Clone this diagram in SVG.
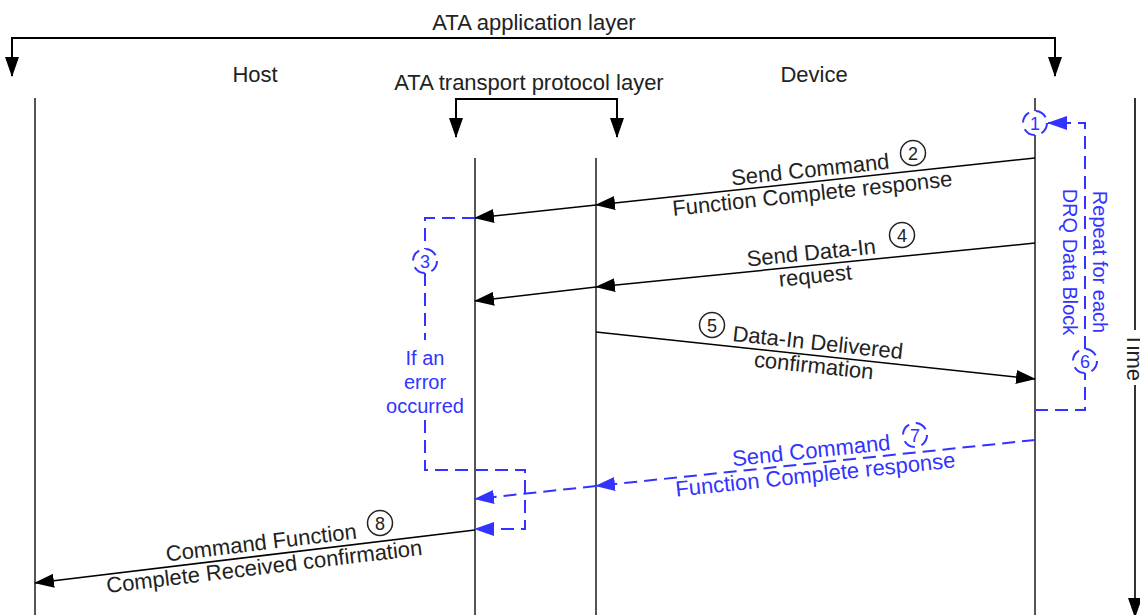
<svg xmlns="http://www.w3.org/2000/svg" width="1140" height="615" viewBox="0 0 1140 615">
<style>
text{font-family:"Liberation Sans",Arial,sans-serif;fill:#222;}
.lbl{font-size:22px;}
.msg{font-size:22px;text-anchor:middle;}
.bl{fill:#3333FF;}
.note{font-size:20px;text-anchor:middle;fill:#3333FF;}
.num{font-size:18px;text-anchor:middle;}
.life{stroke:#555;stroke-width:2;fill:none;}
.br{stroke:#000;stroke-width:2;fill:none;}
.m{stroke:#000;stroke-width:1.5;fill:none;}
.d{stroke:#3333FF;stroke-width:2;fill:none;stroke-dasharray:13 7;}
.c{stroke:#222;stroke-width:1.5;fill:#fff;}
.cd{stroke:#3333FF;stroke-width:2;fill:#fff;stroke-dasharray:12 7;}
</style>
<defs>
<marker id="ab" markerUnits="userSpaceOnUse" markerWidth="20" markerHeight="14" refX="19" refY="7" orient="auto" viewBox="0 0 20 14"><path d="M0,0 L20,7 L0,14 z" fill="#000"/></marker>
<marker id="au" markerUnits="userSpaceOnUse" markerWidth="20" markerHeight="14" refX="19" refY="7" orient="auto" viewBox="0 0 20 14"><path d="M0,0 L20,7 L0,14 z" fill="#3333FF"/></marker>
<marker id="ak" markerUnits="userSpaceOnUse" markerWidth="20" markerHeight="14" refX="19" refY="7" orient="auto" viewBox="0 0 20 14"><path d="M0,0 L20,7 L0,14 z" fill="#000"/></marker>
</defs>

<g id="layers">
<text class="lbl" x="534" y="30" text-anchor="middle">ATA application layer</text>
<path class="br" d="M12,57 V38 H1055 V57"/>
<path class="br" d="M12,40 V76" marker-end="url(#ak)"/>
<path class="br" d="M1055,40 V76" marker-end="url(#ak)"/>
<text class="lbl" x="529" y="90" text-anchor="middle">ATA transport protocol layer</text>
<path class="br" d="M456,120 V99 H617 V120"/>
<path class="br" d="M456,101 V137" marker-end="url(#ak)"/>
<path class="br" d="M617,101 V137" marker-end="url(#ak)"/>
</g>

<g id="host">
<text class="lbl" x="255" y="82" text-anchor="middle">Host</text>
<line class="life" x1="35" y1="98" x2="35" y2="615"/>
</g>
<g id="transport-left"><line class="life" x1="475" y1="158" x2="475" y2="615"/></g>
<g id="transport-right"><line class="life" x1="596" y1="158" x2="596" y2="615"/></g>
<g id="device">
<text class="lbl" x="814" y="82" text-anchor="middle">Device</text>
<line class="life" x1="1035" y1="98" x2="1035" y2="615"/>
</g>
<g id="time">
<line class="br" x1="1135" y1="98" x2="1135" y2="330" style="stroke:#333"/>
<line class="br" x1="1135" y1="385" x2="1135" y2="617" style="stroke:#333" marker-end="url(#ak)"/>
<text class="lbl" transform="translate(1127,357) rotate(90)" text-anchor="middle">Time</text>
</g>

<g id="connectors">
<path class="m" d="M1035,158 L596,205" marker-end="url(#ab)"/>
<path class="m" d="M596,205 L475,218" marker-end="url(#ab)"/>
<path class="m" d="M1035,243 L596,287" marker-end="url(#ab)"/>
<path class="m" d="M596,287 L475,301" marker-end="url(#ab)"/>
<path class="m" d="M596,332 L1035,379" marker-end="url(#ab)"/>
<path class="d" d="M1035,440 L596,486" marker-end="url(#au)"/>
<path class="d" d="M596,486 L475,499" marker-end="url(#au)"/>
<path class="m" d="M475,530 L35,583" marker-end="url(#ab)"/>
<path class="d" d="M475,218 H425 V249"/>
<path class="d" d="M425,273 V340"/>
<path class="d" d="M425,420 V470 H525 V529 H475" marker-end="url(#au)"/>
<path class="d" d="M1035,410 H1085 V373"/>
<path class="d" d="M1085,349 V123 H1048" marker-end="url(#au)"/>
</g>

<g id="msg2">
<text class="msg" transform="rotate(-6.1 811 177)" x="811" y="177">Send Command</text>
<text class="msg" transform="rotate(-6.1 813 201)" x="813" y="201">Function Complete response</text>
<circle class="c" cx="913" cy="153" r="12.5"/><text class="num" x="913" y="159.5">2</text>
</g>
<g id="msg4">
<text class="msg" transform="rotate(-5.7 812 260)" x="812" y="260">Send Data-In</text>
<text class="msg" transform="rotate(-5.7 816 283)" x="816" y="283">request</text>
<circle class="c" cx="902" cy="235" r="12.5"/><text class="num" x="902" y="241.5">4</text>
</g>
<g id="msg5">
<circle class="c" cx="712" cy="325" r="12.5"/><text class="num" x="712" y="331.5">5</text>
<text class="msg" transform="rotate(6.1 817 350)" x="817" y="350">Data-In Delivered</text>
<text class="msg" transform="rotate(6.1 813 373)" x="813" y="373">confirmation</text>
</g>
<g id="msg7">
<text class="msg bl" transform="rotate(-6 812 458)" x="812" y="458">Send Command</text>
<text class="msg bl" transform="rotate(-6 816 482)" x="816" y="482">Function Complete response</text>
<circle class="cd" cx="915" cy="435" r="12"/><text class="num bl" x="915" y="441.5">7</text>
</g>
<g id="msg8">
<text class="msg" transform="rotate(-6.9 262 550)" x="262" y="550">Command Function</text>
<text class="msg" transform="rotate(-6.9 265 574)" x="265" y="574">Complete Received confirmation</text>
<circle class="c" cx="380" cy="523" r="12.5"/><text class="num" x="380" y="529.5">8</text>
</g>
<g id="step1">
<circle class="cd" cx="1035" cy="123" r="12"/><text class="num bl" x="1035" y="129.5">1</text>
</g>
<g id="step3">
<circle class="cd" cx="425" cy="261" r="12"/><text class="num bl" x="425" y="267.5">3</text>
<text class="note" x="425" y="365">If an</text>
<text class="note" x="425" y="389">error</text>
<text class="note" x="425" y="413">occurred</text>
</g>
<g id="step6">
<circle class="cd" cx="1085" cy="361" r="12"/><text class="num bl" x="1085" y="367.5">6</text>
<text class="note" transform="translate(1093,262) rotate(90)">Repeat for each</text>
<text class="note" transform="translate(1063,262) rotate(90)">DRQ Data Block</text>
</g>
</svg>
